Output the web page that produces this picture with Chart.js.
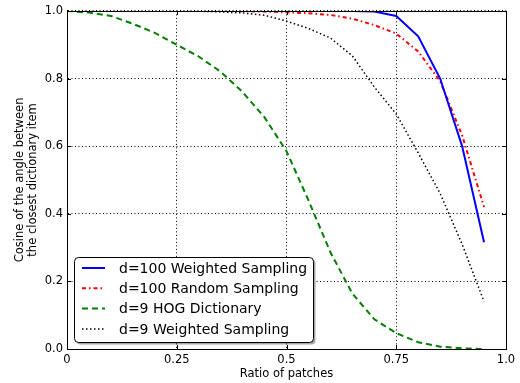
<!DOCTYPE html>
<html>
<head>
<meta charset="utf-8">
<script src="https://cdn.jsdelivr.net/npm/chart.js@4/dist/chart.umd.min.js"></script>
<style>
  html, body { margin: 0; padding: 0; background: #fff; }
  #wrap { width: 520px; height: 383px; }
</style>
</head>
<body>
<div id="wrap"><canvas id="chart" width="520" height="383"></canvas></div>
<script>
// data
const ratio = [0, 0.05, 0.1, 0.15, 0.2, 0.25, 0.3, 0.35, 0.4, 0.45, 0.5, 0.55, 0.6, 0.65, 0.7, 0.75, 0.8, 0.85, 0.9, 0.95];
const weighted100 = [1, 1, 1, 1, 1, 1, 1, 1, 1, 1, 1, 1, 1, 1, 0.998, 0.985, 0.925, 0.80, 0.60, 0.316];
const random100 = [1, 1, 1, 1, 1, 1, 1, 1, 0.999, 0.998, 0.996, 0.993, 0.988, 0.977, 0.958, 0.933, 0.88, 0.792, 0.632, 0.42];
const hog9 = [1, 0.995, 0.985, 0.962, 0.935, 0.90, 0.865, 0.82, 0.76, 0.685, 0.585, 0.44, 0.286, 0.164, 0.088, 0.047, 0.02, 0.007, 0.002, 0];
const weighted9 = [1, 1, 1, 1, 1, 1, 0.999, 0.997, 0.994, 0.987, 0.97, 0.948, 0.92, 0.867, 0.775, 0.695, 0.58, 0.46, 0.31, 0.14];
const xTicks = ['0', '0.25', '0.5', '0.75', '1.0'];
const yTicks = ['0.0', '0.2', '0.4', '0.6', '0.8', '1.0'];

const FONT = 'DejaVu Sans';

function pts(ys) {
    return ratio.map((x, i) => ({ x: x, y: ys[i] }));
}

// frame on all four sides + inward ticks, like matplotlib
const framePlugin = {
    id: 'frame',
    afterDatasetsDraw(chart) {
        const { ctx, chartArea: a, scales } = chart;
        ctx.save();
        ctx.strokeStyle = '#000';
        ctx.lineWidth = 1;
        ctx.setLineDash([]);
        ctx.beginPath();
        scales.x.ticks.forEach(t => {
            const px = Math.round(scales.x.getPixelForValue(t.value)) + 0.5;
            ctx.moveTo(px, a.bottom); ctx.lineTo(px, a.bottom - 4);
            ctx.moveTo(px, a.top); ctx.lineTo(px, a.top + 4);
        });
        scales.y.ticks.forEach(t => {
            const py = Math.round(scales.y.getPixelForValue(t.value)) + 0.5;
            ctx.moveTo(a.left, py); ctx.lineTo(a.left + 4, py);
            ctx.moveTo(a.right, py); ctx.lineTo(a.right - 4, py);
        });
        ctx.stroke();
        ctx.strokeRect(Math.round(a.left) + 0.5, Math.round(a.top) + 0.5,
            Math.round(a.right - a.left), Math.round(a.bottom - a.top));
        ctx.restore();
    }
};

// legend drawn inside the axes, lower left
const innerLegend = {
    id: 'innerLegend',
    afterDraw(chart) {
        const { ctx, chartArea: a } = chart;
        const x0 = a.left + 7, w = 239, h = 85;
        const y0 = a.bottom - 7 - h;
        ctx.save();
        function rr(x, y) {
            ctx.beginPath();
            ctx.roundRect(x, y, w, h, 4);
        }
        ctx.fillStyle = 'rgba(0,0,0,0.35)';
        rr(x0 + 2.5, y0 + 2.5); ctx.fill();
        ctx.fillStyle = '#fff';
        rr(x0 + 0.5, y0 + 0.5); ctx.fill();
        ctx.strokeStyle = '#000';
        ctx.lineWidth = 1;
        ctx.stroke();
        ctx.font = '14px "' + FONT + '"';
        ctx.textBaseline = 'middle';
        chart.data.datasets.forEach((ds, i) => {
            const cy = y0 + 11 + i * 20.3;
            ctx.strokeStyle = ds.borderColor;
            ctx.lineWidth = ds.borderWidth;
            ctx.setLineDash(ds.borderDash || []);
            ctx.beginPath();
            ctx.moveTo(x0 + 8, cy);
            ctx.lineTo(x0 + 31, cy);
            ctx.stroke();
            ctx.setLineDash([]);
            ctx.fillStyle = '#000';
            ctx.fillText(ds.label, x0 + 45, cy + 1);
        });
        ctx.restore();
    }
};

new Chart(document.getElementById('chart'), {
    type: 'line',
    data: {
        datasets: [
            {
                label: 'd=100 Weighted Sampling',
                data: pts(weighted100),
                borderColor: '#0000ff',
                borderWidth: 2
            },
            {
                label: 'd=100 Random Sampling',
                data: pts(random100),
                borderColor: '#ff0000',
                borderWidth: 2,
                borderDash: [4, 3, 1.5, 3]
            },
            {
                label: 'd=9 HOG Dictionary',
                data: pts(hog9),
                borderColor: '#008000',
                borderWidth: 2,
                borderDash: [6, 4]
            },
            {
                label: 'd=9 Weighted Sampling',
                data: pts(weighted9),
                borderColor: '#000000',
                borderWidth: 1.5,
                borderDash: [1.5, 2.5]
            }
        ]
    },
    options: {
        responsive: false,
        animation: false,
        devicePixelRatio: 1,
        layout: { padding: { top: 10, right: 14, left: 0, bottom: 0 } },
        elements: {
            point: { radius: 0 },
            line: { tension: 0, fill: false }
        },
        plugins: {
            legend: { display: false },
            tooltip: { enabled: false }
        },
        scales: {
            x: {
                type: 'linear',
                min: 0,
                max: 1,
                afterFit: s => { s.height = 34; },
                ticks: {
                    stepSize: 0.25,
                    color: '#000',
                    padding: 4,
                    maxRotation: 0,
                    font: { family: FONT, size: 11.5 },
                    callback: (v, i) => xTicks[i]
                },
                grid: { color: '#000', lineWidth: 1, drawTicks: false },
                border: { color: '#000', width: 1, dash: [1, 2.5] },
                title: {
                    display: true,
                    text: 'Ratio of patches',
                    color: '#000',
                    padding: { top: 0, bottom: 2 },
                    font: { family: FONT, size: 11.5 }
                }
            },
            y: {
                min: 0,
                max: 1,
                afterFit: s => { s.width = 67; },
                ticks: {
                    stepSize: 0.2,
                    color: '#000',
                    padding: 4,
                    font: { family: FONT, size: 11.5 },
                    callback: (v, i) => yTicks[i]
                },
                grid: { color: '#000', lineWidth: 1, drawTicks: false },
                border: { color: '#000', width: 1, dash: [1, 2.5] },
                title: {
                    display: true,
                    text: ['Cosine of the angle between', 'the closest dictionary item'],
                    color: '#000',
                    padding: { top: 13, bottom: 0 },
                    font: { family: FONT, size: 11.5, lineHeight: 1.15 }
                }
            }
        }
    },
    plugins: [framePlugin, innerLegend]
});
</script>
</body>
</html>
